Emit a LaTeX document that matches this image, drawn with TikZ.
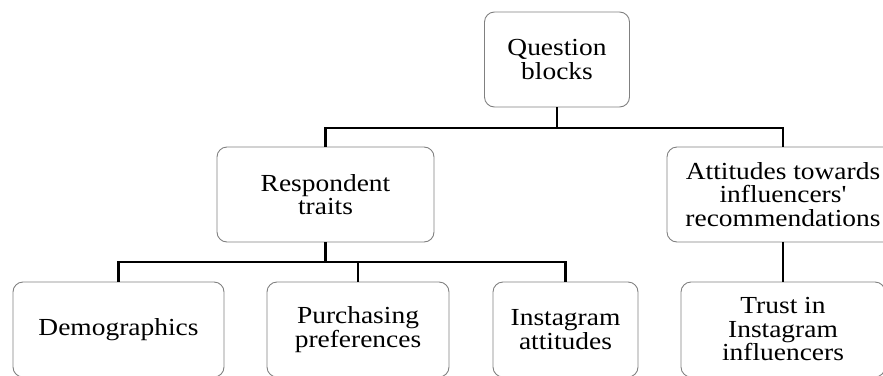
\documentclass[tikz,border=0pt]{standalone}
\usepackage{fontspec}
\setmainfont[FakeStretch=1.12, Ligatures=TeXOff]{Liberation Serif}
\begin{document}
\begin{tikzpicture}[x=1pt,y=1pt,
  box/.style={draw=black!50, line width=0.9pt, rounded corners=10pt, inner sep=0pt,
    align=center, minimum height=95pt, font=\fontsize{24.5}{23.5}\selectfont},
  link/.style={draw=black, line width=2.6pt}]
\useasboundingbox (0,0) rectangle (883,-375);
\node[box, minimum width=145pt] (q) at (557,-59.5) {Question\\blocks};
\node[box, minimum width=217pt] (rt) at (325.5,-194.5) {Respondent\\traits};
\node[box, minimum width=232pt] (att) at (783,-194.5) {Attitudes towards\\influencers'\\recommendations};
\node[box, minimum width=211pt] (dem) at (118.5,-329.5) {Demographics};
\node[box, minimum width=182pt] (pur) at (358,-329.5) {Purchasing\\preferences};
\node[box, minimum width=145pt] (ins) at (565.5,-329.5) {Instagram\\attitudes};
\node[box, minimum width=204pt] (tr) at (783,-329.5) {Trust in\\Instagram\\influencers};
\coordinate (b1) at (q.south |- 0,-128);
\coordinate (b2) at (rt.south |- 0,-262);
\draw[link] (q.south) -- (b1) -| (rt.north);
\draw[link] (b1) -| (att.north);
\draw[link] (rt.south) -- (b2) -| (dem.north);
\draw[link] (b2) -| (pur.north);
\draw[link] (b2) -| (ins.north);
\draw[link] (att.south) -- (tr.north);
\end{tikzpicture}
\end{document}
